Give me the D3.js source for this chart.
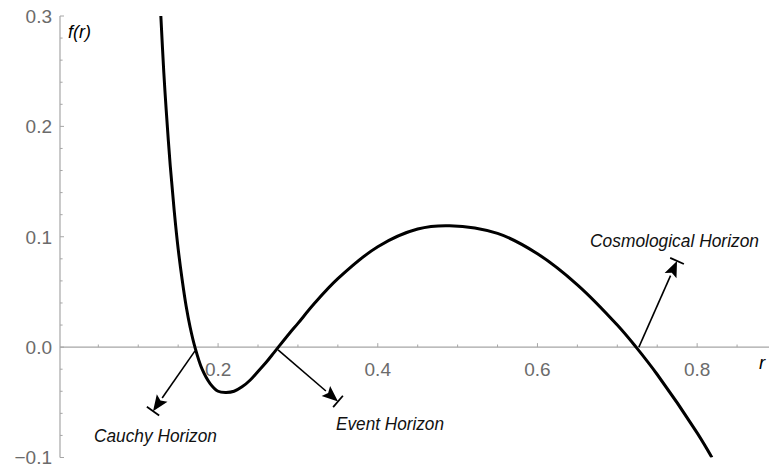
<!DOCTYPE html>
<html>
<head>
<meta charset="utf-8">
<script src="https://cdn.jsdelivr.net/npm/d3@7"></script>
<style>
  html, body { margin: 0; padding: 0; background: #fff; }
  svg { display: block; }
</style>
</head>
<body>
<svg id="chart"></svg>
<script>
// values
const rValues = [0.1283, 0.132, 0.135, 0.14, 0.145, 0.15, 0.155, 0.16, 0.165, 0.171,
  0.18, 0.19, 0.2, 0.21, 0.22, 0.23, 0.24, 0.25, 0.26, 0.27, 0.2755, 0.29, 0.3, 0.32,
  0.35, 0.4, 0.45, 0.49, 0.55, 0.6, 0.65, 0.7, 0.7235, 0.75, 0.8, 0.8185];
const fValues = [0.300, 0.249, 0.215, 0.165, 0.124, 0.089, 0.061, 0.037, 0.018, 0.0,
  -0.020, -0.033, -0.040, -0.041, -0.040, -0.036, -0.030, -0.022, -0.014, -0.005, 0.0, 0.013, 0.0215, 0.039,
  0.062, 0.091, 0.107, 0.110, 0.103, 0.0846, 0.0565, 0.020, 0.0, -0.0248, -0.0777, -0.100];

const xTickValues = [0.2, 0.4, 0.6, 0.8];
const yTickValues = [-0.1, 0.0, 0.1, 0.2, 0.3];

// horizon annotations: arrow from [r, f] start to [r, f] tip, label anchor
const horizonNames = ["Cauchy Horizon", "Event Horizon", "Cosmological Horizon"];
const arrowStarts = [[0.1711, -0.0034], [0.2751, -0.0025], [0.727, 0.0]];
const arrowTips = [[0.1185, -0.058], [0.3502, -0.0492], [0.7748, 0.0781]];
const labelAnchors = [[0.1216, -0.0859], [0.3477, -0.075], [0.7717, 0.091]];
const labelAligns = ["middle", "start", "middle"];
const labelWidths = [123, 108, 169];

const width = 769, height = 470;
const svg = d3.select("#chart")
  .attr("width", width)
  .attr("height", height)
  .attr("viewBox", [0, 0, width, height]);

const x = d3.scaleLinear().domain([0.002, 0.89]).range([60, 769]);
const y = d3.scaleLinear().domain([-0.1, 0.3]).range([457.5, 16]);

const axisColor = "#a6a6a6";
const labelColor = "#6b6b6b";
const font = "'Liberation Sans', Arial, Helvetica, sans-serif";

// x axis at f = 0
const xAxis = svg.append("g").attr("transform", `translate(0,${y(0)})`);
xAxis.append("line")
  .attr("x1", x(0.002)).attr("x2", x(0.89))
  .attr("stroke", axisColor).attr("stroke-width", 1.2);
xAxis.selectAll(".minor")
  .data(d3.range(1, 18).map(i => i * 0.05))
  .join("line")
  .attr("x1", d => x(d)).attr("x2", d => x(d))
  .attr("y1", 0).attr("y2", d => xTickValues.some(t => Math.abs(t - d) < 1e-6) ? -4 : -2.6)
  .attr("stroke", axisColor).attr("stroke-width", 1);
xAxis.selectAll(".lbl")
  .data(xTickValues)
  .join("text")
  .attr("x", d => x(d)).attr("y", 28.5)
  .attr("text-anchor", "middle")
  .attr("fill", labelColor)
  .style("font-family", font).style("font-size", "19px")
  .text(d3.format(".1f"));

// y axis
const yAxis = svg.append("g").attr("transform", `translate(${x(0.002)},0)`);
yAxis.append("line")
  .attr("y1", y(-0.1)).attr("y2", y(0.3))
  .attr("stroke", axisColor).attr("stroke-width", 1.2);
yAxis.selectAll(".minor")
  .data(d3.range(0, 21).map(i => -0.1 + i * 0.02))
  .join("line")
  .attr("y1", d => y(d)).attr("y2", d => y(d))
  .attr("x1", 0).attr("x2", (d, i) => i % 5 === 0 ? 4 : 2.6)
  .attr("stroke", axisColor).attr("stroke-width", 1);
yAxis.selectAll(".lbl")
  .data(yTickValues)
  .join("text")
  .attr("x", -8).attr("y", d => y(d))
  .attr("dy", "0.36em")
  .attr("text-anchor", "end")
  .attr("fill", labelColor)
  .style("font-family", font).style("font-size", "19px")
  .text(d => d3.format(".1f")(d).replace("-", "\u2212"));

// axis labels
svg.append("text")
  .attr("x", 68).attr("y", 38)
  .style("font-family", font).style("font-size", "18px")
  .style("font-style", "italic")
  .text("f(r)");
svg.append("text")
  .attr("x", 759).attr("y", 369)
  .style("font-family", font).style("font-size", "18.5px")
  .style("font-style", "italic")
  .text("r");

// the curve
svg.append("defs").append("clipPath").attr("id", "clip")
  .append("rect")
  .attr("x", x(0.002)).attr("y", y(0.3))
  .attr("width", width - x(0.002)).attr("height", y(-0.1) - y(0.3));

const line = d3.line()
  .x((d, i) => x(rValues[i]))
  .y(d => y(d))
  .curve(d3.curveCatmullRom.alpha(0.5));

svg.append("path")
  .attr("clip-path", "url(#clip)")
  .attr("d", line(fValues))
  .attr("fill", "none")
  .attr("stroke", "#000")
  .attr("stroke-width", 3)
  .attr("stroke-linejoin", "round");

// arrows with a bar at the tip
const headLen = 16, headHalf = 6.5, barHalf = 7.5;
const arrows = svg.append("g");
horizonNames.forEach((name, i) => {
  const x0 = x(arrowStarts[i][0]), y0 = y(arrowStarts[i][1]);
  const x1 = x(arrowTips[i][0]), y1 = y(arrowTips[i][1]);
  const len = Math.hypot(x1 - x0, y1 - y0);
  const ux = (x1 - x0) / len, uy = (y1 - y0) / len;
  const px = -uy, py = ux;
  const bx = x1 - ux * headLen, by = y1 - uy * headLen;

  arrows.append("line")
    .attr("x1", x0).attr("y1", y0).attr("x2", bx).attr("y2", by)
    .attr("stroke", "#000").attr("stroke-width", 1.6);
  arrows.append("path")
    .attr("d", `M${x1},${y1}L${bx + px * headHalf},${by + py * headHalf}` +
      `L${bx + ux * 3},${by + uy * 3}L${bx - px * headHalf},${by - py * headHalf}Z`)
    .attr("fill", "#000");
  arrows.append("line")
    .attr("x1", x1 + px * barHalf).attr("y1", y1 + py * barHalf)
    .attr("x2", x1 - px * barHalf).attr("y2", y1 - py * barHalf)
    .attr("stroke", "#000").attr("stroke-width", 1.8);

  svg.append("text")
    .attr("x", x(labelAnchors[i][0])).attr("y", y(labelAnchors[i][1]))
    .attr("text-anchor", labelAligns[i])
    .attr("textLength", labelWidths[i])
    .attr("lengthAdjust", "spacingAndGlyphs")
    .style("font-family", font).style("font-size", "18.2px")
    .style("font-style", "italic")
    .attr("fill", "#111")
    .text(name);
});
</script>
</body>
</html>
